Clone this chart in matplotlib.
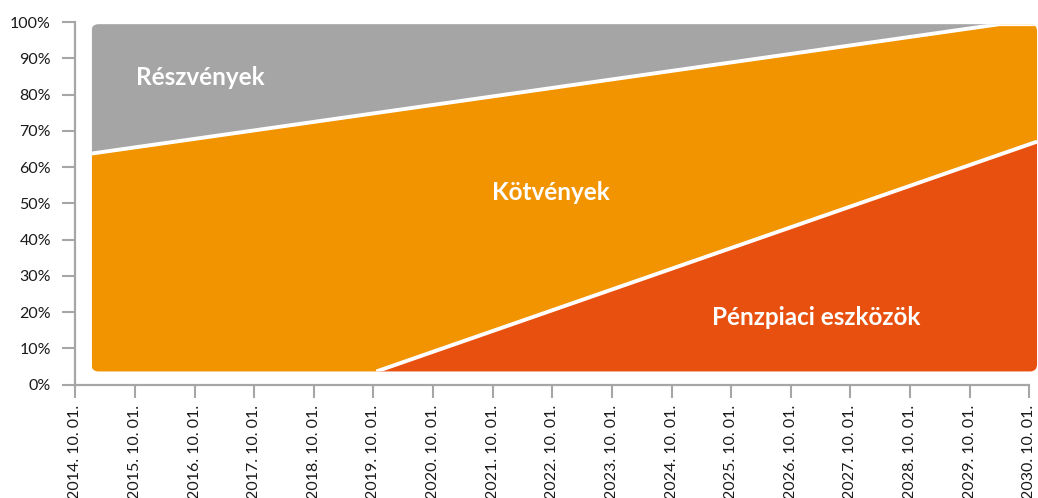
import matplotlib
matplotlib.use("Agg")
import matplotlib.pyplot as plt
from matplotlib.patches import FancyBboxPatch
import numpy as np

plt.rcParams['font.family'] = ['Lato', 'DejaVu Sans']

# x positions: years after 2014.10.01 (0 = 2014.10.01 tick)
tick_labels = [f"{y}. 10. 01." for y in range(2014, 2031)]
x_pts = [0.27, 5.05, 15.5, 16.13]
# boundaries (percent of axis)
base = [3.6, 3.6, 3.6, 3.6]
penz_top = [3.6, 3.6, 63.4, 67.0]      # Pénzpiaci eszközök upper edge
kotv_top = [63.7, 74.9, 99.4, 99.4]    # Kötvények upper edge
resz_top = [99.4, 99.4, 99.4, 99.4]    # Részvények upper edge

labels = ["Részvények", "Kötvények", "Pénzpiaci eszközök"]
label_pos = [(2.09, 84.7), (7.98, 52.9), (12.42, 18.4)]

c_gray = "#a6a5a5"
c_orange = "#f29300"
c_red = "#e8500f"
c_axis = "#a6a6a6"

fig = plt.figure(figsize=(10.38, 4.98), dpi=100)
ax = fig.add_axes([75.3/1038, 1-384.5/498, (16.15*59.625)/1038, (384.5-22)/498])
ax.set_xlim(0, 16.15)
ax.set_ylim(0, 100)

clip = FancyBboxPatch((x_pts[0], base[0]), x_pts[-1]-x_pts[0], resz_top[0]-base[0],
                      boxstyle="round,pad=0,rounding_size=0.12",
                      mutation_aspect=16.5, transform=ax.transData,
                      facecolor="none", edgecolor="none")
ax.add_patch(clip)

xs = np.array(x_pts)
f1 = ax.fill_between(xs, base, penz_top, color=c_red, lw=0)
f2 = ax.fill_between(xs, penz_top, kotv_top, color=c_orange, lw=0)
f3 = ax.fill_between(xs, kotv_top, resz_top, color=c_gray, lw=0)
l1, = ax.plot(xs[1:], penz_top[1:], color="white", lw=2.8, solid_capstyle="butt")
l2, = ax.plot(xs, kotv_top, color="white", lw=2.8, solid_capstyle="butt")
for a in (f1, f2, f3, l1, l2):
    a.set_clip_path(clip)

for t, (x, y) in zip(labels, label_pos):
    ax.text(x, y, t, color="white", fontsize=17.5, fontweight="bold", ha="center", va="center")

ax.set_yticks(np.arange(0, 101, 10))
ax.set_yticklabels([f"{v}%" for v in range(0, 101, 10)])
ax.set_xticks(np.arange(0, 17))
ax.set_xticklabels(tick_labels, rotation=90, ha="center", va="top")

for s in ("top", "right"):
    ax.spines[s].set_visible(False)
for s in ("left", "bottom"):
    ax.spines[s].set_color(c_axis)
    ax.spines[s].set_linewidth(1.6)
ax.spines["bottom"].set_bounds(0, 16)
ax.tick_params(axis="both", length=9.5, width=1.5, color=c_axis, labelsize=11.5, labelcolor="#1a1a1a")
ax.tick_params(axis="y", pad=8)
ax.tick_params(axis="x", pad=5)

fig.savefig("out.png", dpi=100)
